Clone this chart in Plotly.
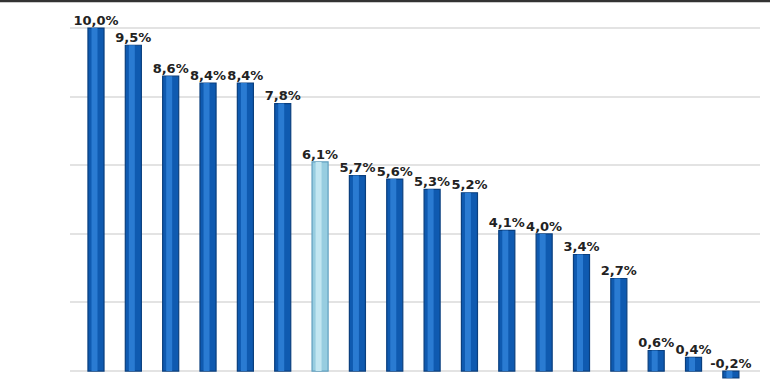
import plotly.graph_objects as go

categories = [f"C{i+1}" for i in range(18)]
values = [10.0, 9.5, 8.6, 8.4, 8.4, 7.8, 6.1, 5.7, 5.6, 5.3, 5.2, 4.1, 4.0, 3.4, 2.7, 0.6, 0.4, -0.2]
highlight_index = 6
labels = [f"{v:.1f}%".replace(".", ",") for v in values]

W, H = 770, 380
dark = "#0f5ab0"
dark_hi = "#2a7bd2"
dark_edge = "#0a3f7e"
light = "#97cde0"
light_hi = "#c2e6f1"
light_edge = "#5f9fbf"

n = len(values)
x_idx = list(range(n))
colors = [light if i == highlight_index else dark for i in range(n)]
hi_colors = [light_hi if i == highlight_index else dark_hi for i in range(n)]
edges = [light_edge if i == highlight_index else dark_edge for i in range(n)]

fig = go.Figure()
fig.add_trace(go.Bar(
    x=x_idx, y=values, width=0.43,
    marker=dict(color=colors, line=dict(color=edges, width=1.2)),
    hoverinfo="skip",
))
fig.add_trace(go.Bar(
    x=x_idx, y=values, width=0.16, offset=-0.12,
    marker=dict(color=hi_colors, line=dict(width=0)),
    hoverinfo="skip",
))
fig.add_trace(go.Scatter(
    x=x_idx, y=[max(v, 0) for v in values],
    mode="text", text=labels, textposition="top center",
    textfont=dict(family="DejaVu Sans", size=13, color="#222222", weight="bold"),
    hoverinfo="skip", cliponaxis=False,
))

fig.update_layout(
    width=W, height=H,
    margin=dict(l=0, r=0, t=0, b=0),
    paper_bgcolor="white", plot_bgcolor="white",
    showlegend=False,
    barmode="overlay",
    xaxis=dict(domain=[70 / W, 760 / W], range=[-0.696, 17.78],
               showgrid=False, zeroline=False, showticklabels=False, ticks=""),
    yaxis=dict(range=[-0.26, 10.82], dtick=2, tick0=0,
               showgrid=True, gridcolor="#e3e3e3", gridwidth=2,
               zeroline=True, zerolinecolor="#e3e3e3", zerolinewidth=2,
               showticklabels=False, ticks=""),
    shapes=[dict(type="line", xref="paper", yref="paper", x0=-0.2, x1=1.2, y0=0.998, y1=0.998,
                 line=dict(color="#333333", width=3))],
)

fig.write_html("out.html", config={"displayModeBar": False},
               post_script="document.body.style.margin='0';")
